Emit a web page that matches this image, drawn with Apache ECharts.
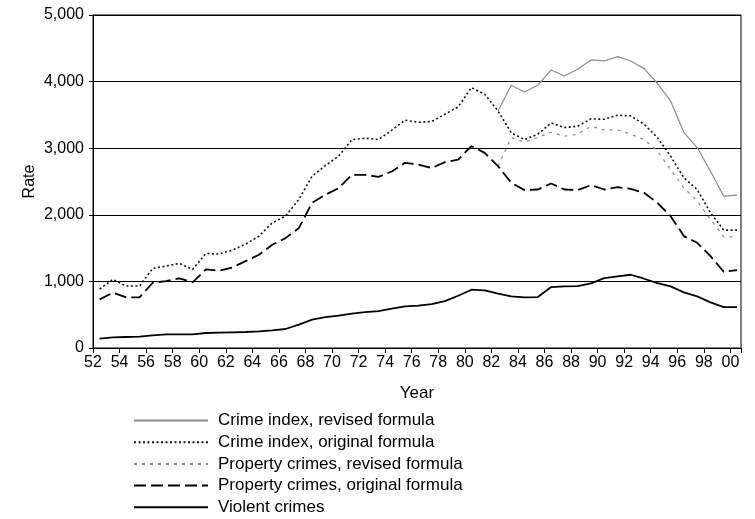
<!DOCTYPE html>
<html>
<head>
<meta charset="utf-8">
<script src="https://cdn.jsdelivr.net/npm/echarts@6/dist/echarts.min.js"></script>
<style>
  html, body { margin: 0; padding: 0; background: #fff; }
  #chart { width: 755px; height: 519px; }
</style>
</head>
<body>
<div id="chart"></div>
<script>
// years 1952..2000 (shown as two digits)
var years = [52, 53, 54, 55, 56, 57, 58, 59, 60, 61, 62, 63, 64, 65, 66, 67, 68, 69, 70, 71,
  72, 73, 74, 75, 76, 77, 78, 79, 80, 81, 82, 83, 84, 85, 86, 87, 88, 89, 90, 91,
  92, 93, 94, 95, 96, 97, 98, 99, 100];

// revised series only start in 1982
var crimeRevised = [null, null, null, null, null, null, null, null, null, null,
  null, null, null, null, null, null, null, null, null, null,
  null, null, null, null, null, null, null, null, null, null,
  3560, 3945, 3845, 3945, 4175, 4085, 4185, 4325, 4310, 4375,
  4310, 4195, 3975, 3710, 3235, 3010, 2655, 2280, 2295];
var crimeOriginal = [885, 1030, 930, 930, 1195, 1230, 1270, 1180, 1420, 1410,
  1470, 1560, 1680, 1880, 1980, 2230, 2580, 2740, 2880, 3130,
  3150, 3130, 3270, 3420, 3390, 3400, 3510, 3620, 3910, 3810,
  3560, 3230, 3130, 3210, 3380, 3310, 3330, 3440, 3435, 3495,
  3485, 3360, 3160, 2880, 2555, 2380, 2030, 1770, 1770];
var propertyRevised = [null, null, null, null, null, null, null, null, null, null,
  null, null, null, null, null, null, null, null, null, null,
  null, null, null, null, null, null, null, null, null, null,
  2730, 3160, 3090, 3160, 3240, 3180, 3210, 3330, 3275, 3275,
  3210, 3130, 2960, 2680, 2405, 2205, 1930, 1670, 1670];
var propertyOriginal = [730, 830, 760, 760, 980, 1005, 1045, 985, 1180, 1160,
  1210, 1305, 1400, 1550, 1650, 1800, 2180, 2300, 2400, 2600,
  2600, 2570, 2650, 2780, 2755, 2700, 2790, 2830, 3030, 2930,
  2730, 2480, 2370, 2380, 2470, 2380, 2370, 2445, 2380, 2415,
  2390, 2330, 2180, 1980, 1680, 1580, 1380, 1145, 1170];
var violent = [140, 160, 165, 170, 190, 205, 205, 205, 225, 230,
  235, 240, 250, 265, 285, 350, 425, 465, 485, 515,
  540, 555, 590, 625, 635, 660, 705, 785, 875, 865,
  815, 775, 760, 765, 915, 925, 930, 970, 1050, 1075,
  1100, 1040, 975, 925, 835, 775, 685, 615, 615];

var yTicks = [0, 1000, 2000, 3000, 4000, 5000];

// points sit in the middle of each year
function pairs(arr) {
  return years.map(function (y, i) { return [y + 0.5, arr[i]]; });
}

var font = '"Liberation Sans", Arial, sans-serif';

var chart = echarts.init(document.getElementById('chart'));
chart.setOption({
  animation: false,
  backgroundColor: '#fff',
  textStyle: { fontFamily: font, color: '#000' },
  grid: {
    left: 93, right: 14, top: 15, bottom: 171,
    show: true, borderColor: '#000', borderWidth: 1
  },
  legend: {
    orient: 'vertical',
    left: 133,
    top: 412,
    padding: 0,
    itemWidth: 74,
    itemHeight: 17,
    itemGap: 4.7,
    itemStyle: { opacity: 0 },
    textStyle: { fontFamily: font, fontSize: 17, color: '#000', padding: [0, 0, 0, 5] },
    data: ['Crime index, revised formula', 'Crime index, original formula',
      'Property crimes, revised formula', 'Property crimes, original formula', 'Violent crimes']
  },
  xAxis: {
    type: 'value',
    min: 52,
    max: 100.8,
    interval: 2,
    name: 'Year',
    nameLocation: 'middle',
    nameGap: 37,
    nameMoveOverlap: false,
    nameTextStyle: { fontSize: 17, color: '#000', fontFamily: font },
    axisLine: { lineStyle: { color: '#000', width: 1 } },
    axisTick: { show: true, length: 5, lineStyle: { color: '#000' } },
    axisLabel: {
      fontSize: 16, color: '#000', margin: 7,
      formatter: function (v) {
        var r = Math.round(v);
        if (Math.abs(v - r) > 1e-6 || r % 2 !== 0) return '';
        var s = String(r % 100);
        return s.length < 2 ? '0' + s : s;
      }
    },
    splitLine: { show: false }
  },
  yAxis: {
    type: 'value',
    min: yTicks[0],
    max: yTicks[yTicks.length - 1],
    interval: 1000,
    name: 'Rate',
    nameLocation: 'middle',
    nameRotate: 90,
    nameGap: 55,
    nameMoveOverlap: false,
    nameTextStyle: { fontSize: 16, color: '#000', fontFamily: font },
    axisLine: { show: true, lineStyle: { color: '#000', width: 1 } },
    axisTick: { show: true, length: 4, lineStyle: { color: '#000' } },
    axisLabel: {
      fontSize: 16, color: '#000', margin: 9,
      formatter: function (v) { return v.toLocaleString('en-US'); }
    },
    splitLine: { show: true, lineStyle: { color: '#000', width: 1.2 } }
  },
  series: [
    {
      name: 'Crime index, revised formula',
      type: 'line',
      data: pairs(crimeRevised),
      symbol: 'none',
      connectNulls: false,
      lineStyle: { color: '#8c8c8c', width: 1.2, type: 'solid' },
      itemStyle: { color: '#8c8c8c' }
    },
    {
      name: 'Crime index, original formula',
      type: 'line',
      data: pairs(crimeOriginal),
      symbol: 'none',
      lineStyle: { color: '#111', width: 1.6, type: [2, 2.5] },
      itemStyle: { color: '#111' }
    },
    {
      name: 'Property crimes, revised formula',
      type: 'line',
      data: pairs(propertyRevised),
      symbol: 'none',
      lineStyle: { color: '#8c8c8c', width: 1.2, type: [3, 5] },
      itemStyle: { color: '#8c8c8c' }
    },
    {
      name: 'Property crimes, original formula',
      type: 'line',
      data: pairs(propertyOriginal),
      symbol: 'none',
      lineStyle: { color: '#000', width: 1.8, type: [12, 5] },
      itemStyle: { color: '#000' }
    },
    {
      name: 'Violent crimes',
      type: 'line',
      data: pairs(violent),
      symbol: 'none',
      lineStyle: { color: '#000', width: 1.8, type: 'solid' },
      itemStyle: { color: '#000' }
    }
  ]
});
</script>
</body>
</html>
